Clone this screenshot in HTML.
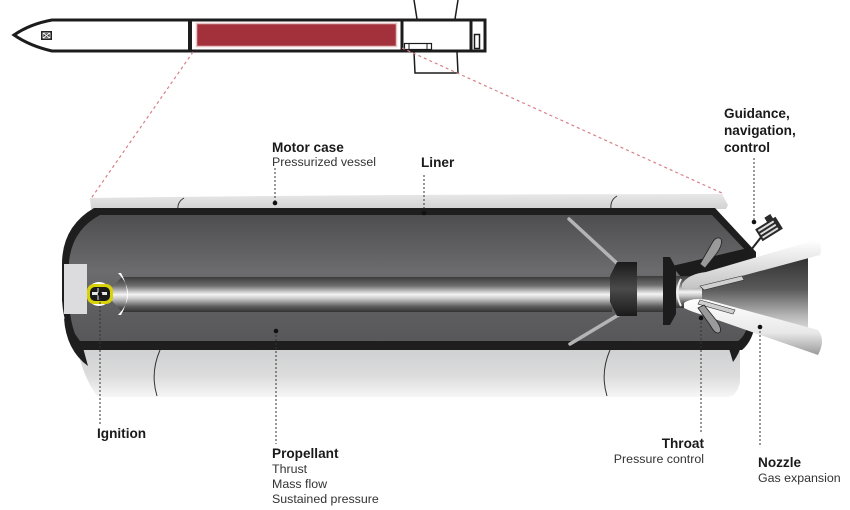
<!DOCTYPE html>
<html><head><meta charset="utf-8"><style>
html,body{margin:0;padding:0;background:#fff;}
svg{display:block;}
.t{font-family:"Liberation Sans",Arial,sans-serif;font-weight:bold;font-size:13.6px;fill:#1a1a1a;}
.s{font-family:"Liberation Sans",Arial,sans-serif;font-size:12.4px;fill:#333;}
.ld{stroke:#333;stroke-width:1;stroke-dasharray:2,2;fill:none;}
</style></head><body>
<svg width="850" height="510" viewBox="0 0 850 510" xmlns="http://www.w3.org/2000/svg">
<defs>
<linearGradient id="body" x1="0" y1="0" x2="0" y2="1">
<stop offset="0" stop-color="#4e4e50"/><stop offset="0.45" stop-color="#6c6c6e"/><stop offset="0.75" stop-color="#5e5e60"/><stop offset="1" stop-color="#58585a"/>
</linearGradient>
<linearGradient id="tube" x1="0" y1="0" x2="0" y2="1">
<stop offset="0" stop-color="#3c3c3c"/><stop offset="0.25" stop-color="#6e6e6e"/><stop offset="0.5" stop-color="#f4f4f4"/><stop offset="0.62" stop-color="#c8c8c8"/><stop offset="0.85" stop-color="#5a5a5a"/><stop offset="1" stop-color="#333"/>
</linearGradient>
<linearGradient id="shell" x1="0" y1="0" x2="0" y2="1">
<stop offset="0" stop-color="#cdcecf"/><stop offset="0.6" stop-color="#dcdcdd"/><stop offset="1" stop-color="#f6f6f6"/>
</linearGradient>
<linearGradient id="strip" x1="0" y1="0" x2="0" y2="1">
<stop offset="0" stop-color="#e8e8e8"/><stop offset="1" stop-color="#d2d2d2"/>
</linearGradient>
<linearGradient id="noz" x1="0" y1="0" x2="0" y2="1">
<stop offset="0" stop-color="#2e2e2e"/><stop offset="0.45" stop-color="#5a5a5a"/><stop offset="0.8" stop-color="#b8b8b8"/><stop offset="1" stop-color="#e0e0e0"/>
</linearGradient>
<linearGradient id="wallU" x1="0" y1="0" x2="0" y2="1">
<stop offset="0" stop-color="#ffffff"/><stop offset="1" stop-color="#c4c4c4"/>
</linearGradient>
<linearGradient id="wallL" x1="0" y1="0" x2="0" y2="1">
<stop offset="0" stop-color="#ffffff"/><stop offset="0.6" stop-color="#e8e8e8"/><stop offset="1" stop-color="#9a9a9a"/>
</linearGradient>
<linearGradient id="chev" x1="0" y1="0" x2="0" y2="1">
<stop offset="0" stop-color="#1a1a1a"/><stop offset="0.5" stop-color="#4a4a4a"/><stop offset="1" stop-color="#1a1a1a"/>
</linearGradient>
</defs>

<!-- top rocket -->
<g stroke="#1c1c1c" fill="none">
<path d="M414,0 L417,19 M458,0 L455,19" stroke-width="1.5"/>
<path d="M414,52 L415,73 L458,73 L457,52" stroke-width="1.5"/>
<path d="M14,35 Q30,24 52,20 L485,20 L485,51 L52,51 Q30,46 14,35 Z" stroke-width="3" fill="#fff"/>
<line x1="190" y1="20" x2="190" y2="51" stroke-width="4"/>
<line x1="402" y1="20" x2="402" y2="51" stroke-width="3"/>
<line x1="471" y1="20" x2="471" y2="51" stroke-width="3"/>
<rect x="474.5" y="34.5" width="5" height="14" stroke-width="1.5" fill="#fff"/>
<rect x="404.5" y="43.5" width="27" height="6" stroke-width="1.2" fill="#fff"/>
<line x1="409" y1="44" x2="409" y2="49" stroke-width="1"/>
<line x1="427" y1="44" x2="427" y2="49" stroke-width="1"/>
</g>
<rect x="196.5" y="23.5" width="200" height="23" fill="#a3313b" stroke="#e8c4c6" stroke-width="1.5"/>
<rect x="41" y="31" width="11" height="9" fill="#222"/>
<path d="M43,33 L50,38 M50,33 L43,38" stroke="#fff" stroke-width="1"/>
<rect x="43" y="33" width="7" height="5" fill="none" stroke="#fff" stroke-width="0.8"/>

<!-- red dashed zoom lines -->
<path d="M193,52 L90,200" stroke="#d88088" stroke-width="1.2" stroke-dasharray="3,3" fill="none"/>
<path d="M402,48 L724,194" stroke="#d88088" stroke-width="1.2" stroke-dasharray="3,3" fill="none"/>

<!-- lower shell -->
<path d="M76,344 L740,344 L740,382 Q737,396 728,397 L98,397 Q84,380 76,344 Z" fill="url(#shell)"/>
<path d="M160,350 Q150,373 157,396" stroke="#333" stroke-width="1" fill="none"/>
<path d="M610,350 Q600,373 607,396" stroke="#333" stroke-width="1" fill="none"/>
<path d="M742,322 Q746,345 733,362 L728,345 Z" fill="#1e1e1e"/>

<!-- top strip -->
<path d="M90,198 Q400,194 722,194 L728,205 L726,209 L91,209 Z" fill="url(#strip)"/>
<path d="M184,198 Q177,202 178,210" stroke="#333" stroke-width="1" fill="none"/>
<path d="M617,196 Q610,200 611,209" stroke="#333" stroke-width="1" fill="none"/>

<!-- dark body -->
<path d="M94,208 L715,208 L756,252 L756,318 Q754,340 742,350 L80,350 Q64,332 62,300 L62,262 Q63,226 94,208 Z" fill="#1e1e1e"/>
<path d="M100,215 L712,215 L749,254 L749,318 Q747,335 738,341 L78,341 Q70,325 69,300 L69,262 Q72,230 100,215 Z" fill="url(#body)"/>
<path d="M64,318 Q66,350 88,366 L82,344 Z" fill="#1e1e1e"/>

<!-- propellant cone line -->
<path d="M569,219 L620,266" stroke="#b4b4b4" stroke-width="3.5" fill="none" stroke-linecap="round"/>
<path d="M620,314 L570,344" stroke="#b4b4b4" stroke-width="3.5" fill="none" stroke-linecap="round"/>

<!-- igniter housing -->
<rect x="64" y="264" width="23" height="50" fill="#dcdcde"/>
<circle cx="99" cy="294" r="12" fill="#fff"/>

<!-- main tube -->
<path d="M112,287 L122,277 L612,277 L612,312 L122,312 L112,301 Z" fill="url(#tube)"/>
<path d="M118,273 Q138,294 118,315 L121,315 Q133,294 121,273 Z" fill="#fff"/>

<!-- igniter -->
<rect x="87" y="284" width="26" height="20" rx="7" fill="#d8d20c"/>
<rect x="90" y="287" width="20" height="14" rx="5" fill="#1a1a1a"/>
<rect x="92" y="292" width="15" height="3" fill="#e8e8e8"/>
<line x1="98" y1="288" x2="98" y2="300" stroke="#e8e8e8" stroke-width="1"/>

<!-- chevron / aft closure -->
<path d="M617,262 L637,262 L637,316 L617,316 L610,302 L610,276 Z" fill="url(#chev)"/>
<rect x="637" y="276" width="27" height="36" fill="url(#tube)"/>

<!-- black bracket band -->
<path d="M672,266 L706,258 L748,248 L754,262 L712,278 L686,283 Z" fill="#1c1c1c"/>

<!-- nozzle interior -->
<path d="M700,282 L808,254 L808,332 L700,306 Z" fill="url(#noz)"/>
<!-- throat -->
<rect x="672" y="276" width="30" height="32" fill="url(#tube)"/>
<path d="M681,279 Q674,292 681,306" stroke="#eee" stroke-width="2" fill="none"/>
<!-- flange -->
<path d="M663,257 L670,257 L676,268 L676,314 L670,325 L663,325 Z" fill="#1c1c1c"/>

<!-- nozzle walls -->
<path d="M682,284 Q688,274 706,272 L815,240 Q824,244 820,255 L712,284 Q696,290 682,288 Z" fill="url(#wallU)"/>
<path d="M684,303 Q692,297 708,300 L818,330 Q826,340 818,355 L706,316 Q692,312 684,308 Z" fill="url(#wallL)"/>
<path d="M700,286 L742,276 L744,280 L704,290 Z" fill="#cfcfcf" stroke="#333" stroke-width="0.6"/>
<path d="M700,300 L735,310 L733,314 L698,304 Z" fill="#cfcfcf" stroke="#333" stroke-width="0.6"/>

<!-- actuators -->
<path d="M700,264 L711,245 Q716,235 721,239 Q723,244 717,253 L705,268 Z" fill="#9a9a9a" stroke="#222" stroke-width="0.8"/>
<path d="M698,308 L710,325 Q716,336 720,332 Q722,328 716,320 L704,305 Z" fill="#9a9a9a" stroke="#222" stroke-width="0.8"/>

<!-- GNC device -->
<line x1="751" y1="250" x2="762" y2="236" stroke="#222" stroke-width="2"/>
<g transform="translate(769,229) rotate(-32)">
<rect x="-12" y="-7" width="24" height="14" fill="#2a2a2a"/>
<rect x="-10" y="-5" width="18" height="2" fill="#ddd"/>
<rect x="-10" y="-1" width="18" height="2" fill="#ddd"/>
<rect x="-10" y="3" width="18" height="2" fill="#ddd"/>
<rect x="2" y="-12" width="7" height="6" fill="#2a2a2a"/>
</g>

<!-- leader lines -->
<path class="ld" d="M275,168 L275,203"/><circle cx="275" cy="203" r="2.3" fill="#111"/>
<path class="ld" d="M424,175 L424,213"/><circle cx="424" cy="213" r="2.3" fill="#111"/>
<path class="ld" d="M754,158 L754,222"/><circle cx="754" cy="222" r="2.3" fill="#111"/>
<path class="ld" d="M100,294 L100,424"/><circle cx="100" cy="294" r="2.3" fill="#111"/>
<path class="ld" d="M276,331 L276,444"/><circle cx="276" cy="331" r="2.3" fill="#111"/>
<path class="ld" d="M701,318 L701,432"/><circle cx="701" cy="318" r="2.3" fill="#111"/>
<path class="ld" d="M760,327 L760,445"/><circle cx="760" cy="327" r="2.3" fill="#111"/>

<!-- labels -->
<text class="t" x="272" y="152">Motor case</text>
<text class="s" x="272" y="166">Pressurized vessel</text>
<text class="t" x="421" y="167">Liner</text>
<text class="t" x="724" y="118">Guidance,</text>
<text class="t" x="724" y="135">navigation,</text>
<text class="t" x="724" y="152">control</text>
<text class="t" x="97" y="438">Ignition</text>
<text class="t" x="272" y="458">Propellant</text>
<text class="s" x="272" y="473">Thrust</text>
<text class="s" x="272" y="488">Mass flow</text>
<text class="s" x="272" y="503">Sustained pressure</text>
<text class="t" x="704" y="448" text-anchor="end">Throat</text>
<text class="s" x="704" y="463" text-anchor="end">Pressure control</text>
<text class="t" x="758" y="467">Nozzle</text>
<text class="s" x="758" y="482">Gas expansion</text>
</svg>
</body></html>
